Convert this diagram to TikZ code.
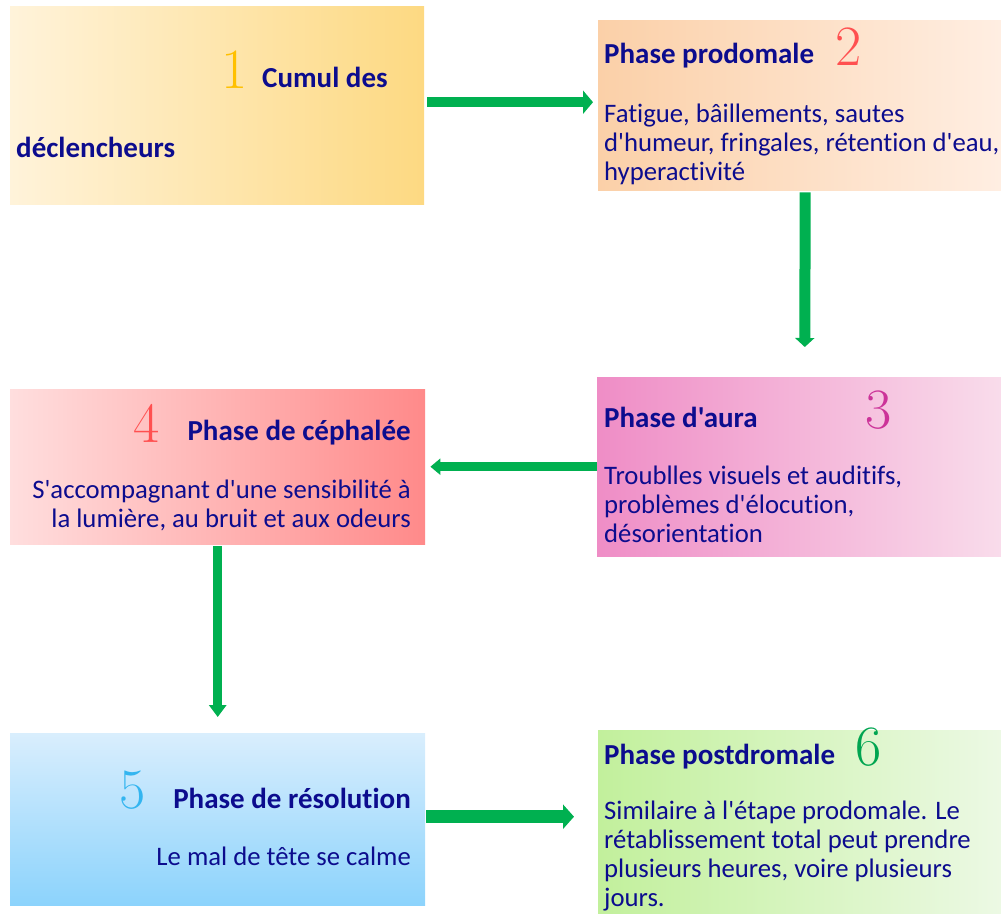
\documentclass[tikz,border=0pt]{standalone}
\usepackage{fontspec}
\newfontfamily\calib[Ligatures=NoCommon]{Carlito}
\usetikzlibrary{arrows.meta}
\definecolor{navy}{HTML}{0C0C8E}
\definecolor{arrowgreen}{HTML}{00B050}
\definecolor{numone}{HTML}{FFC000}
\definecolor{numtwo}{HTML}{FF5050}
\definecolor{numthree}{HTML}{CC3399}
\definecolor{numfour}{HTML}{FF5050}
\definecolor{numfive}{HTML}{33B5F0}
\definecolor{numsix}{HTML}{00A550}
\definecolor{bAl}{HTML}{FFF3DA}\definecolor{bAr}{HTML}{FDD982}
\definecolor{bBl}{HTML}{FBD0A8}\definecolor{bBr}{HTML}{FFEEE2}
\definecolor{bCl}{HTML}{EF8DC6}\definecolor{bCr}{HTML}{F9DCEB}
\definecolor{bDl}{HTML}{FFDEDE}\definecolor{bDr}{HTML}{FF8A8A}
\definecolor{bEt}{HTML}{D9EEFD}\definecolor{bEb}{HTML}{8CD3FC}
\definecolor{bFl}{HTML}{C2F09C}\definecolor{bFr}{HTML}{ECF9E4}
\begin{document}
\begin{tikzpicture}[x=1pt,y=-1pt,
  box/.style={rectangle, inner sep=0, draw=none, anchor=north west},
  ttl/.style={font=\calib\bfseries\fontsize{29}{34}\selectfont, text=navy, inner sep=0},
  body/.style={font=\calib\fontsize{26.7}{29}\selectfont, text=navy, inner sep=0},
  num/.style={font=\fontsize{57}{60}\selectfont, inner sep=0, anchor=base west},
  conn/.style={draw=arrowgreen, line width=10, -{Triangle[length=10,width=23]}}]
\useasboundingbox (0,0) rectangle (1001,913);
% boxes
\node[box, minimum width=414, minimum height=198, left color=bAl, right color=bAr] (b1) at (10,6) {};
\node[box, minimum width=403, minimum height=170, left color=bBl, right color=bBr] (b2) at (598,20) {};
\node[box, minimum width=404, minimum height=179, left color=bCl, right color=bCr] (b3) at (597,377) {};
\node[box, minimum width=415, minimum height=155, left color=bDl, right color=bDr] (b4) at (10,389) {};
\node[box, minimum width=415, minimum height=172, top color=bEt, bottom color=bEb] (b5) at (10,733) {};
\node[box, minimum width=403, minimum height=183, left color=bFl, right color=bFr] (b6) at (598,730) {};
% box 1
\node[num, text=numone] (n1) at (221,88) {1};
\node[ttl, anchor=base west] (t1) at (262,87) {Cumul des};
\node[ttl, anchor=base west] (t1b) at (16,157) {déclencheurs};
% box 2 (base anchor = last line)
\node[ttl, anchor=base west] (t2) at (604,63) {Phase prodomale};
\node[num, text=numtwo] (n2) at (835,65) {2};
\node[body, align=left, anchor=base west] (d2) at (604,180) {Fatigue, bâillements, sautes\\d'humeur, fringales, rétention d'eau,\\hyperactivité};
% box 3
\node[ttl, anchor=base west] (t3) at (604,427) {Phase d'aura};
\node[num, text=numthree] (n3) at (865,428) {3};
\node[body, align=left, anchor=base west] (d3) at (604,542) {Troublles visuels et auditifs,\\problèmes d'élocution,\\désorientation};
% box 4
\node[num, text=numfour] (n4) at (133,442) {4};
\node[ttl, anchor=base east] (t4) at (411,440) {Phase de céphalée};
\node[body, align=right, anchor=base east] (d4) at (411,527) {S'accompagnant d'une sensibilité à\\la lumière, au bruit et aux odeurs};
% box 5
\node[num, text=numfive] (n5) at (119,808) {5};
\node[ttl, anchor=base east] (t5) at (411,808) {Phase de résolution};
\node[body, anchor=base east] (d5) at (411,865) {Le mal de tête se calme};
% box 6
\node[ttl, anchor=base west] (t6) at (604,764) {Phase postdromale};
\node[num, text=numsix] (n6) at (855,765) {6};
\node[body, align=left, anchor=base west] (d6) at (604,906) {Similaire à l'étape prodomale. Le\\rétablissement total peut prendre\\plusieurs heures, voire plusieurs\\jours.};
% connectors
\draw[conn, shorten <=3, shorten >=5] ([yshift=3]b1.east) -- ([yshift=3]b2.west);
\draw[conn, line width=11, -{Triangle[length=9,width=19]}, shorten <=2, shorten >=30] ([xshift=5.5]b2.south) -- ([xshift=5.5]b3.north);
\draw[conn, line width=9, -{Triangle[length=10,width=16]}, shorten >=5] (b3.west) -- (b4.east);
\draw[conn, line width=9, -{Triangle[length=12,width=17]}, shorten <=2, shorten >=16] (b4.south) -- (b5.north);
\draw[conn, line width=13, -{Triangle[length=11,width=24]}, shorten <=1, shorten >=24] ([yshift=2.5]b5.east) -- ([yshift=5]b6.west);
\end{tikzpicture}
\end{document}
